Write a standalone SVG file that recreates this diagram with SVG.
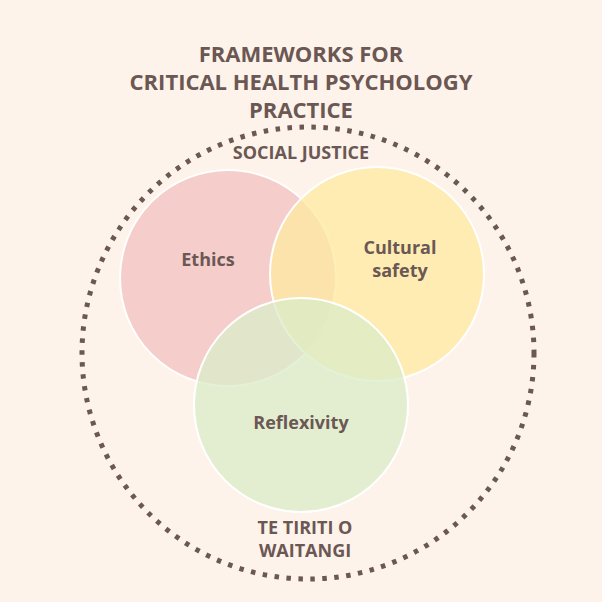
<svg xmlns="http://www.w3.org/2000/svg" width="602" height="602" viewBox="0 0 602 602">
<style>
text{font-family:"Open Sans","Liberation Sans",sans-serif;font-weight:bold;fill:#6b5753;text-anchor:middle}
.t{font-size:22px}
.l{font-size:18px}
.c{stroke:#fff;stroke-width:2;fill-opacity:0.75}
</style>
<rect width="602" height="602" fill="#fdf3ea"/>
<g id="title"><text class="t" x="301" y="62">FRAMEWORKS FOR</text><text class="t" x="301" y="90">CRITICAL HEALTH PSYCHOLOGY</text><text class="t" x="301" y="118">PRACTICE</text></g>
<g id="connectors"><circle cx="308" cy="353" r="226" fill="none" stroke="#6b5753" stroke-width="5" stroke-dasharray="4.5 7.5"/></g>
<g id="ethics"><circle class="c" cx="228" cy="278" r="108" fill="#f2c1c1"/></g>
<g id="cultural"><circle class="c" cx="377" cy="274" r="107" fill="#fde9a0"/></g>
<g id="reflexivity"><circle class="c" cx="301" cy="405" r="107" fill="#d9ecc8"/></g>
<g id="labels">
<text class="l" x="208" y="266">Ethics</text>
<text class="l" x="400" y="254">Cultural</text><text class="l" x="400" y="277">safety</text>
<text class="l" x="301" y="429">Reflexivity</text>
<text class="l" x="301" y="159">SOCIAL JUSTICE</text>
<text class="l" x="305" y="534">TE TIRITI O</text><text class="l" x="305" y="557">WAITANGI</text>
</g>
</svg>
